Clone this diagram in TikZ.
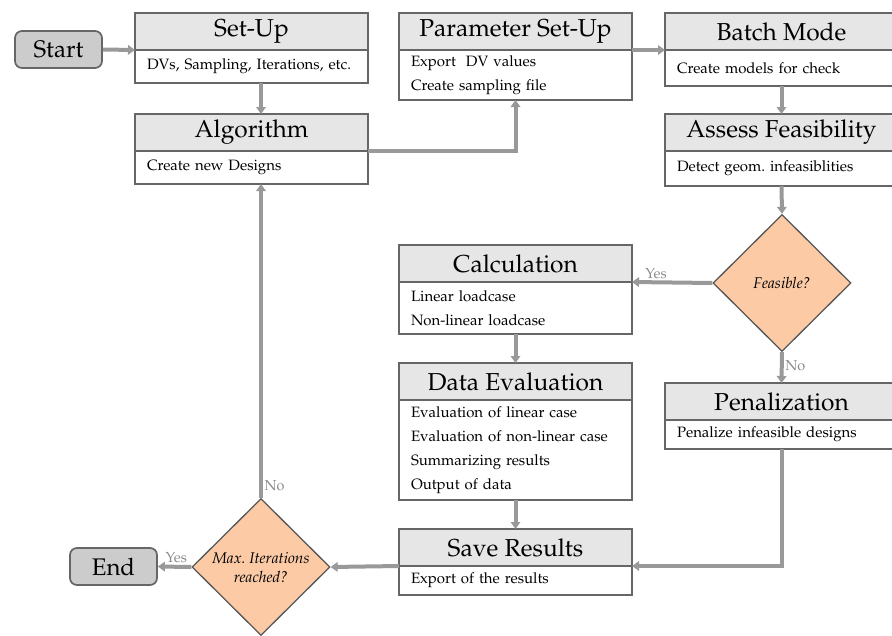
\documentclass[tikz,border=0pt]{standalone}
\usepackage[T1]{fontenc}
\usepackage{mathpazo}
\usepackage{tikz}
\usetikzlibrary{arrows.meta, positioning, shapes.geometric}
\definecolor{myFrame}{HTML}{666666}
\definecolor{myHead}{HTML}{E6E6E6}
\definecolor{myTerm}{HTML}{CCCCCC}
\definecolor{myLine}{HTML}{999999}
\definecolor{myPeach}{HTML}{FCCBA6}
\definecolor{myLabel}{HTML}{8A8A8A}
\frenchspacing

\begin{document}
\begin{tikzpicture}[x=1pt, y=-1pt,
head/.style={rectangle, draw=myFrame, fill=myHead, line width=1.7pt, minimum width=233pt, minimum height=37pt, inner sep=0pt, outer sep=0pt, font=\fontsize{24.5}{28}\selectfont, anchor=north west},
body/.style={rectangle, draw=myFrame, fill=white, line width=1.7pt, text width=209pt, inner xsep=12pt, inner ysep=2pt, outer sep=0pt, align=left, font=\fontsize{15}{24}\selectfont, minimum height=#1},
term/.style={rectangle, draw=myFrame, fill=myTerm, rounded corners=7pt, line width=1.7pt, minimum width=87pt, minimum height=37pt, font=\fontsize{24}{28}\selectfont},
decision/.style={diamond, draw=myFrame!85!black, fill=myPeach, line width=1.3pt, minimum width=138pt, minimum height=137pt, inner sep=0pt, align=center, font=\fontsize{15.5}{19}\selectfont\itshape},
arrow/.style={-{Triangle[length=7pt, width=9.5pt]}, line width=4pt, myLine},
lbl/.style={font=\fontsize{14.5}{16}\selectfont, text=myLabel, inner sep=1.5pt}
]
\clip (0,0) rectangle (892,635);
\useasboundingbox (0,0) rectangle (892,635);

% left column
\node[term] (start) at (58.5,49.5) {Start};
\node[head] (setup) at (135,13) {Set-Up};
\node[body=33pt, below=0pt of setup] (setup-body) {DVs, Sampling, Iterations, etc.};
\node[head] (algo) at (135,114) {Algorithm};
\node[body=33pt, below=0pt of algo] (algo-body) {Create new Designs};

% middle column
\node[head] (param) at (399,13) {Parameter Set-Up};
\node[body=50pt, below=0pt of param] (param-body) {Export\ \ DV values\\Create sampling file};
\node[head] (calc) at (399,245) {Calculation};
\node[body=52pt, below=0pt of calc] (calc-body) {Linear loadcase\\Non-linear loadcase};
\node[head] (data) at (399,363) {Data Evaluation};
\node[body=100pt, below=0pt of data] (data-body) {Evaluation of linear case\\Evaluation of non-linear case\\Summarizing results\\Output of data};
\node[head] (save) at (399,529) {Save Results};
\node[body=29pt, below=0pt of save] (save-body) {Export of the results};

% right column
\node[head] (batch) at (665,13) {Batch Mode};
\node[body=36pt, below=0pt of batch] (batch-body) {Create models for check};
\node[head] (assess) at (665,114) {Assess Feasibility};
\node[body=35pt, below=0pt of assess] (assess-body) {Detect geom. infeasiblities};
\node[decision] (feas) at (782,283) {Feasible?};
\node[head] (penal) at (665,383) {Penalization};
\node[body=29pt, below=0pt of penal] (penal-body) {Penalize infeasible designs};

% loop end
\node[decision] (maxit) at (261,567) {Max. Iterations\\reached?};
\node[term] (end) at (113.5,566.5) {End};

\draw[arrow] (start.east) -- (setup.south west);
\draw[arrow] (setup-body.south -| maxit) -- (algo.north -| maxit);
\draw[arrow] (algo.south east) -| (param-body.south);
\draw[arrow] (param.south east) -- (batch.south west);
\draw[arrow] (batch-body.south) -- (assess.north);
\draw[arrow] (assess-body.south) -- (feas.north);
\draw[arrow] (feas.west) -- node[lbl, above, pos=0.7] {Yes} (calc.south east);
\draw[arrow] (feas.south) -- node[lbl, right, pos=0.45] {No} (penal.north);
\draw[arrow] (calc-body.south) -- (data.north);
\draw[arrow] (data-body.south) -- (save.north);
\draw[arrow] (penal-body.south) |- (save.south east);
\draw[arrow] (save.south west) -- (maxit.east);
\draw[arrow] (maxit.west) -- node[lbl, above, pos=0.45] {Yes} (end.east);
\draw[arrow] (maxit.north) -- node[lbl, right, pos=0.04] {No} (algo-body.south -| maxit);
\end{tikzpicture}
\end{document}
